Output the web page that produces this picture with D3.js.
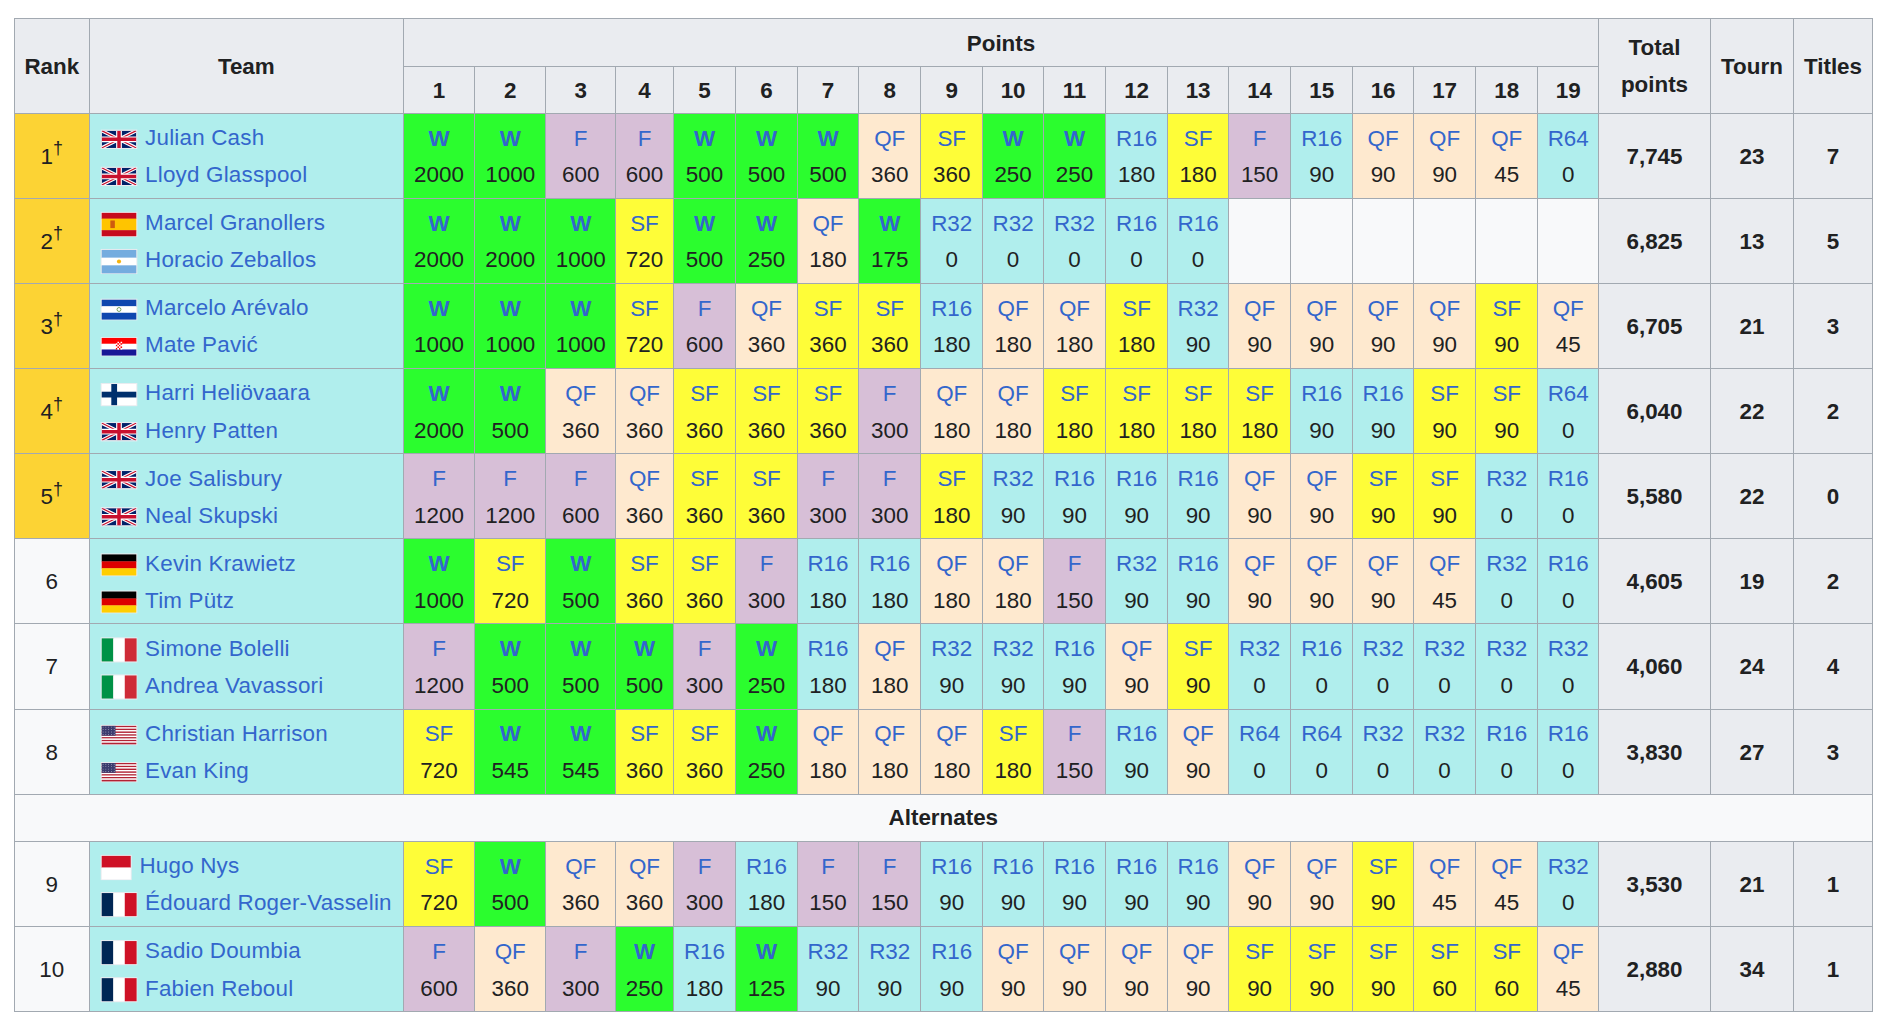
<!DOCTYPE html>
<html><head><meta charset="utf-8">
<script src="https://cdnjs.cloudflare.com/ajax/libs/d3/7.8.5/d3.min.js"></script>
<style>
html,body{margin:0;padding:0;background:#fff;}
svg{display:block;}
text{font-family:"Liberation Sans",Arial,Helvetica,sans-serif;font-size:22.4px;}
</style></head><body><div id="chart"></div>
<script>
// ---------------- DATA ----------------
const ranks = ["1","2","3","4","5","6","7","8","9","10"];
const rankMark = ["†","†","†","†","†","","","","",""];
const playerA = ["Julian Cash","Marcel Granollers","Marcelo Arévalo","Harri Heliövaara","Joe Salisbury","Kevin Krawietz","Simone Bolelli","Christian Harrison","Hugo Nys","Sadio Doumbia"];
const playerB = ["Lloyd Glasspool","Horacio Zeballos","Mate Pavić","Henry Patten","Neal Skupski","Tim Pütz","Andrea Vavassori","Evan King","Édouard Roger-Vasselin","Fabien Reboul"];
const flagA = ["GBR","ESP","ESA","FIN","GBR","GER","ITA","USA","MON","FRA"];
const flagB = ["GBR","ARG","CRO","GBR","GBR","GER","ITA","USA","FRA","FRA"];
const eventNumbers = ["1","2","3","4","5","6","7","8","9","10","11","12","13","14","15","16","17","18","19"];
const rounds = [
  ["W","W","F","F","W","W","W","QF","SF","W","W","R16","SF","F","R16","QF","QF","QF","R64"],
  ["W","W","W","SF","W","W","QF","W","R32","R32","R32","R16","R16",null,null,null,null,null,null],
  ["W","W","W","SF","F","QF","SF","SF","R16","QF","QF","SF","R32","QF","QF","QF","QF","SF","QF"],
  ["W","W","QF","QF","SF","SF","SF","F","QF","QF","SF","SF","SF","SF","R16","R16","SF","SF","R64"],
  ["F","F","F","QF","SF","SF","F","F","SF","R32","R16","R16","R16","QF","QF","SF","SF","R32","R16"],
  ["W","SF","W","SF","SF","F","R16","R16","QF","QF","F","R32","R16","QF","QF","QF","QF","R32","R16"],
  ["F","W","W","W","F","W","R16","QF","R32","R32","R16","QF","SF","R32","R16","R32","R32","R32","R32"],
  ["SF","W","W","SF","SF","W","QF","QF","QF","SF","F","R16","QF","R64","R64","R32","R32","R16","R16"],
  ["SF","W","QF","QF","F","R16","F","F","R16","R16","R16","R16","R16","QF","QF","SF","QF","QF","R32"],
  ["F","QF","F","W","R16","W","R32","R32","R16","QF","QF","QF","QF","SF","SF","SF","SF","SF","QF"]
];
const points = [
  [2000,1000,600,600,500,500,500,360,360,250,250,180,180,150,90,90,90,45,0],
  [2000,2000,1000,720,500,250,180,175,0,0,0,0,0,null,null,null,null,null,null],
  [1000,1000,1000,720,600,360,360,360,180,180,180,180,90,90,90,90,90,90,45],
  [2000,500,360,360,360,360,360,300,180,180,180,180,180,180,90,90,90,90,0],
  [1200,1200,600,360,360,360,300,300,180,90,90,90,90,90,90,90,90,0,0],
  [1000,720,500,360,360,300,180,180,180,180,150,90,90,90,90,90,45,0,0],
  [1200,500,500,500,300,250,180,180,90,90,90,90,90,0,0,0,0,0,0],
  [720,545,545,360,360,250,180,180,180,180,150,90,90,0,0,0,0,0,0],
  [720,500,360,360,300,180,150,150,90,90,90,90,90,90,90,90,45,45,0],
  [600,360,300,250,180,125,90,90,90,90,90,90,90,90,90,90,60,60,45]
];
const totals = [7745,6825,6705,6040,5580,4605,4060,3830,3530,2880];
const tourns = [23,13,21,22,22,19,24,27,21,34];
const titles = [7,5,3,2,0,2,4,3,1,1];
const alternatesLabel = "Alternates";
const alternatesAfter = 8;

// ---------------- LAYOUT / STYLE ----------------
const W = 1896, H = 1026;
const colEdges = [14.3, 89.3, 403.3, 474.7, 545.7, 615.7, 673.3, 735.7, 797.3, 858.7, 920.7, 982.7, 1043.5, 1105.5, 1167.7, 1228.5, 1290.7, 1352.7, 1413.5, 1475.7, 1537.7, 1598.7, 1710.3, 1793.7, 1872.3];
const headTop = 18.3, headMid = 66.7, headBot = 113.3;
const rowH = 85.1, altH = 47.4;
const C = {
  border:"#a2a9b1", head:"#eaecf0", light:"#f8f9fa", text:"#202122", link:"#3366cc",
  gold:"#fcd334", team:"#b0eeed",
  W:"#2bfd2e", F:"#d7bfd7", SF:"#fefd38", QF:"#fee9cf", R:"#b0eeed"
};
const roundColor = r => r == null ? C.light : (C[r] || C.R);
const fmt = d3.format(",");

const svg = d3.select("#chart").append("svg").attr("width", W).attr("height", H);
const gFill = svg.append("g");
const gText = svg.append("g");

// row y positions
const rowTops = [];
let y = headBot;
ranks.forEach((r, i) => {
  if (i === alternatesAfter) { rowTops.altTop = y; y += altH; }
  rowTops.push(y); y += rowH;
});

function cell(x0, x1, y0, y1, fill) {
  gFill.append("rect").attr("x", x0).attr("y", y0).attr("width", x1 - x0).attr("height", y1 - y0)
    .attr("fill", fill).attr("stroke", C.border).attr("stroke-width", 1).attr("shape-rendering", "crispEdges");
}
function txt(x, yb, s, opt = {}) {
  return gText.append("text").attr("x", x).attr("y", yb).attr("text-anchor", opt.anchor || "middle")
    .attr("fill", opt.fill || C.text).attr("font-weight", opt.bold ? "bold" : "normal").text(s);
}
const cx = i => (colEdges[i] + colEdges[i + 1]) / 2;

// ---------------- HEADER ----------------
cell(colEdges[0], colEdges[1], headTop, headBot, C.head);
cell(colEdges[1], colEdges[2], headTop, headBot, C.head);
cell(colEdges[2], colEdges[21], headTop, headMid, C.head);
eventNumbers.forEach((n, j) => cell(colEdges[2 + j], colEdges[3 + j], headMid, headBot, C.head));
cell(colEdges[21], colEdges[22], headTop, headBot, C.head);
cell(colEdges[22], colEdges[23], headTop, headBot, C.head);
cell(colEdges[23], colEdges[24], headTop, headBot, C.head);

const headC = (headTop + headBot) / 2;
txt(cx(0), headC + 8, "Rank", {bold:true});
txt(cx(1), headC + 8, "Team", {bold:true});
txt((colEdges[2] + colEdges[21]) / 2, (headTop + headMid) / 2 + 8, "Points", {bold:true});
eventNumbers.forEach((n, j) => txt(cx(2 + j), (headMid + headBot) / 2 + 8, n, {bold:true}));
txt(cx(21), headC - 10.7, "Total", {bold:true});
txt(cx(21), headC + 26.3, "points", {bold:true});
txt(cx(22), headC + 8, "Tourn", {bold:true});
txt(cx(23), headC + 8, "Titles", {bold:true});

// ---------------- FLAGS ----------------
const flagRatio = {GBR:2, ESP:1.5, ARG:1.5, ESA:1.77, CRO:2, FIN:18/11, GER:5/3, ITA:1.5, USA:1.9, MON:1.25, FRA:1.5};
let clipId = 0;
function hStripes(g, w, h, cols, fracs) {
  let yy = 0;
  cols.forEach((c, k) => { const hh = h * fracs[k]; g.append("rect").attr("x",0).attr("y",yy).attr("width",w).attr("height",hh+0.3).attr("fill",c); yy += hh; });
}
function vStripes(g, w, h, cols) {
  cols.forEach((c, k) => g.append("rect").attr("x", w*k/cols.length).attr("y",0).attr("width", w/cols.length+0.3).attr("height",h).attr("fill",c));
}
const flagDraw = {
  GBR(g, w, h) {
    const id = "clip" + (clipId++);
    g.append("clipPath").attr("id", id).append("rect").attr("width", w).attr("height", h);
    const c = g.append("g").attr("clip-path", `url(#${id})`);
    c.append("rect").attr("width", w).attr("height", h).attr("fill", "#012169");
    const diag = `M0,0L${w},${h}M${w},0L0,${h}`;
    c.append("path").attr("d", diag).attr("stroke", "#fff").attr("stroke-width", h * 0.2);
    c.append("path").attr("d", diag).attr("stroke", "#C8102E").attr("stroke-width", h * 0.07);
    const cross = `M${w/2},0V${h}M0,${h/2}H${w}`;
    c.append("path").attr("d", cross).attr("stroke", "#fff").attr("stroke-width", h / 3);
    c.append("path").attr("d", cross).attr("stroke", "#C8102E").attr("stroke-width", h / 5);
  },
  ESP(g, w, h) {
    hStripes(g, w, h, ["#c60b1e","#ffc400","#c60b1e"], [0.25,0.5,0.25]);
    g.append("rect").attr("x", w*0.25).attr("y", h*0.33).attr("width", w*0.13).attr("height", h*0.33).attr("fill", "#ad1519").attr("opacity", 0.6);
  },
  ARG(g, w, h) {
    hStripes(g, w, h, ["#74acdf","#ffffff","#74acdf"], [1/3,1/3,1/3]);
    g.append("circle").attr("cx", w/2).attr("cy", h/2).attr("r", h*0.09).attr("fill", "#f6b40e");
  },
  ESA(g, w, h) {
    hStripes(g, w, h, ["#0f47af","#ffffff","#0f47af"], [1/3,1/3,1/3]);
    g.append("circle").attr("cx", w/2).attr("cy", h/2).attr("r", h*0.1).attr("fill", "none").attr("stroke", "#5a8f3e").attr("stroke-width", 0.8);
  },
  CRO(g, w, h) {
    hStripes(g, w, h, ["#ff0000","#ffffff","#171796"], [1/3,1/3,1/3]);
    const s = h * 0.09, x0 = w/2 - 2*s, y0 = h*0.22;
    for (let r = 0; r < 5; r++) for (let q = 0; q < 4; q++)
      g.append("rect").attr("x", x0 + q*s).attr("y", y0 + r*s).attr("width", s).attr("height", s)
        .attr("fill", (r + q) % 2 ? "#ffffff" : "#ff0000");
  },
  FIN(g, w, h) {
    g.append("rect").attr("width", w).attr("height", h).attr("fill", "#ffffff");
    g.append("rect").attr("x", w*5/18).attr("y", 0).attr("width", w*3/18).attr("height", h).attr("fill", "#002f6c");
    g.append("rect").attr("x", 0).attr("y", h*4/11).attr("width", w).attr("height", h*3/11).attr("fill", "#002f6c");
  },
  GER(g, w, h) { hStripes(g, w, h, ["#000000","#dd0000","#ffce00"], [1/3,1/3,1/3]); },
  ITA(g, w, h) { vStripes(g, w, h, ["#009246","#ffffff","#ce2b37"]); },
  FRA(g, w, h) { vStripes(g, w, h, ["#002654","#ffffff","#ce1126"]); },
  MON(g, w, h) { hStripes(g, w, h, ["#ce1126","#ffffff"], [0.5,0.5]); },
  USA(g, w, h) {
    for (let k = 0; k < 13; k++)
      g.append("rect").attr("x", 0).attr("y", h*k/13).attr("width", w).attr("height", h/13 + 0.2).attr("fill", k % 2 ? "#ffffff" : "#b22234");
    g.append("rect").attr("width", w*0.4).attr("height", h*7/13).attr("fill", "#3c3b6e");
    for (let r = 0; r < 4; r++) for (let q = 0; q < 5; q++)
      g.append("circle").attr("cx", w*0.4*(q+0.5)/5).attr("cy", h*7/13*(r+0.5)/4).attr("r", 0.45).attr("fill", "#fff").attr("opacity", 0.8);
  }
};
function drawFlag(code, x, yc) {
  const r = flagRatio[code];
  let fw = 34.6, fh = fw / r;
  if (fh > 23.2) { fh = 23.2; fw = fh * r; }
  const g = gText.append("g").attr("transform", `translate(${x + 1},${yc - fh / 2})`);
  g.append("rect").attr("x", -1).attr("y", -1).attr("width", fw + 2).attr("height", fh + 2).attr("fill", "#eaecf0");
  flagDraw[code](g, fw, fh);
  return fw + 2;
}

// ---------------- BODY ----------------
ranks.forEach((rk, i) => {
  const t = rowTops[i], b = t + rowH, mid = (t + b) / 2;
  cell(colEdges[0], colEdges[1], t, b, rankMark[i] ? C.gold : C.light);
  const rt = txt(cx(0), mid + 8, rk);
  if (rankMark[i]) rt.append("tspan").attr("font-size", "17.9px").attr("dy", -9.5).text(rankMark[i]);

  cell(colEdges[1], colEdges[2], t, b, C.team);
  [[playerA[i], flagA[i], t + 31.8], [playerB[i], flagB[i], t + 68.9]].forEach(([name, fl, base]) => {
    const fw = drawFlag(fl, 100.7, base - 5.8);
    txt(100.7 + fw + 7.8, base, name, {anchor:"start", fill:C.link}).attr("letter-spacing", "0.2px");
  });

  rounds[i].forEach((r, j) => {
    cell(colEdges[2 + j], colEdges[3 + j], t, b, roundColor(r));
    if (r != null) {
      txt(cx(2 + j), t + 32.2, r, {fill:C.link, bold: r === "W"});
      txt(cx(2 + j), t + 68.9, String(points[i][j]));
    }
  });
  cell(colEdges[21], colEdges[22], t, b, C.head);
  cell(colEdges[22], colEdges[23], t, b, C.head);
  cell(colEdges[23], colEdges[24], t, b, C.head);
  txt(cx(21), mid + 8, fmt(totals[i]), {bold:true});
  txt(cx(22), mid + 8, String(tourns[i]), {bold:true});
  txt(cx(23), mid + 8, String(titles[i]), {bold:true});
});

// Alternates separator row
const at = rowTops.altTop;
cell(colEdges[0], colEdges[24], at, at + altH, C.light);
txt((colEdges[0] + colEdges[24]) / 2, at + altH / 2 + 7.5, alternatesLabel, {bold:true});
</script></body></html>
